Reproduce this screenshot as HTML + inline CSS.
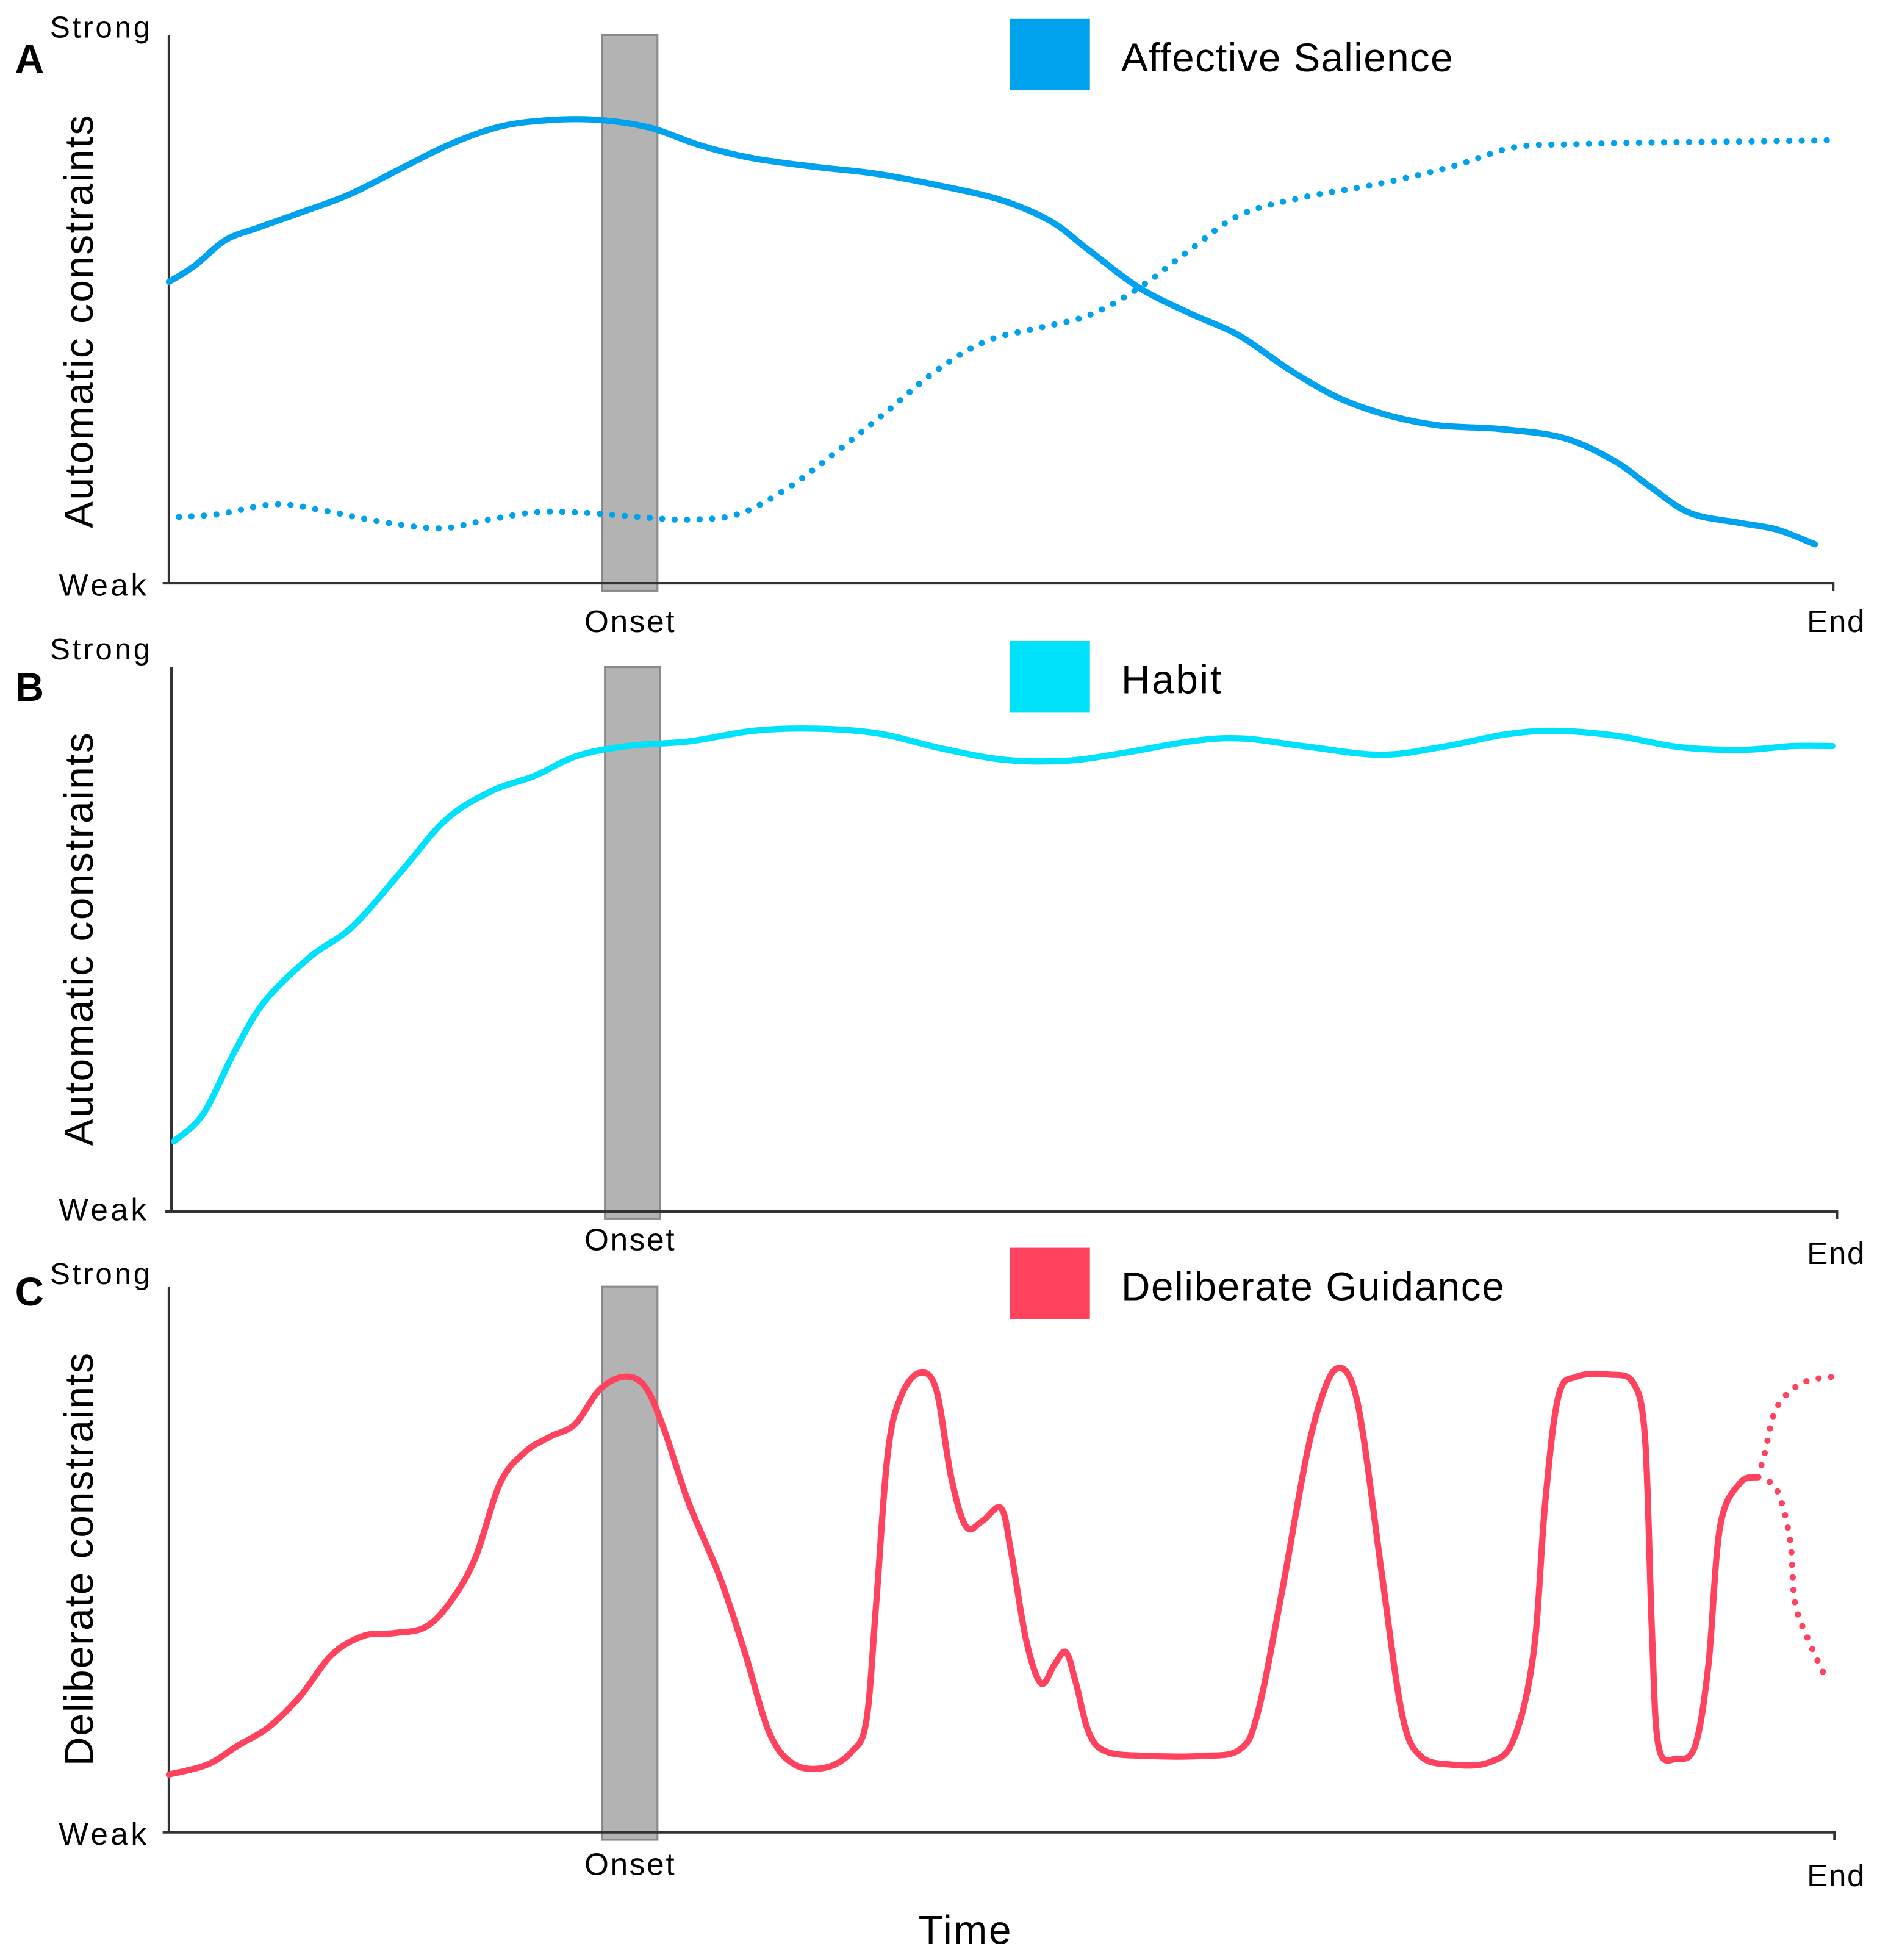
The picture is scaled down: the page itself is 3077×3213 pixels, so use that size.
<!DOCTYPE html>
<html><head><meta charset="utf-8"><style>
html,body{margin:0;padding:0;background:#fff;}
svg{display:block;}
text{font-family:"Liberation Sans",sans-serif;fill:#000;}
</style></head><body>
<svg id="chart" width="3077" height="3213" viewBox="0 0 1500 1566" preserveAspectRatio="none" xmlns="http://www.w3.org/2000/svg">
</svg>
<script>
// Panel A: affective salience (solid) and dotted alternative
const aSolidT=[0,1.5,3.4,5.3,7.9,10.9,13.9,16.9,19.9,22.9,25.9,28.9,31.9,34.96,38.7,42.5,46.2,50.0,53.0,55.3,58.3,61.3,64.3,67.3,70.3,73.3,76.3,80.1,83.8,86.8,89.1,91.4,94.4,96.6,98.9];
const aSolidV=[55.0,57.8,62.6,64.8,67.6,71.0,75.6,80.1,83.3,84.5,84.5,83.1,79.9,77.6,76.0,74.7,72.6,69.9,66.0,60.7,53.9,49.3,45.2,39.0,33.8,30.6,28.8,28.1,26.5,22.4,17.4,12.8,11.0,9.8,7.1];
const aDotT=[0.6,3.0,6.4,9.4,12.4,16.2,19.2,22.2,25.2,28.2,31.2,34.2,37.2,40.2,43.2,46.2,49.2,52.3,55.3,58.3,61.3,64.3,68.0,72.6,77.1,80.8,84.6,89.1,95.1,99.8];
const aDotV=[12.1,12.6,14.4,13.2,11.4,10.0,11.6,13.0,12.8,12.1,11.6,12.6,17.4,24.2,31.5,39.0,44.3,46.6,48.9,53.9,60.7,67.1,70.3,72.8,76.0,79.5,80.1,80.4,80.6,80.8];
// Panel B: habit
const bT=[0.15,1.9,3.8,5.6,8.3,10.9,13.9,16.5,19.2,21.8,24.4,27.4,31.2,34.96,38.7,42.5,46.2,50.0,53.8,57.5,61.3,64.3,68.0,72.6,76.3,80.1,83.1,86.8,90.6,94.4,97.4,99.8];
const bV=[12.9,17.9,29.4,38.6,46.7,52.4,62.8,72.0,77.2,80.0,83.7,85.5,86.4,88.3,88.7,87.8,85.1,83.0,82.8,84.4,86.4,86.9,85.5,83.9,85.3,87.6,88.3,87.4,85.3,84.8,85.5,85.5];
// Panel C: deliberate guidance
const cT=[0,2.3,4.1,6.0,7.9,9.8,11.7,13.5,15.4,16.9,18.4,19.9,21.4,22.9,24.4,25.9,27.4,28.6,29.7,31.2,33.1,34.6,36.1,37.6,39.5,41.0,41.9,42.5,43.2,44.0,45.1,46.1,47.0,47.9,48.9,50.0,50.6,51.5,52.4,53.2,53.9,54.5,55.3,56.4,59.0,62.0,64.3,65.4,66.9,68.4,69.5,70.3,71.1,71.8,72.9,74.1,75.2,77.1,79.3,80.8,82.0,82.7,83.5,84.6,86.5,88.0,88.7,89.1,89.5,90.6,91.7,92.5,93.2,94.4,95.5];
const cV=[10.6,12.4,15.8,19.3,25.0,32.6,36.0,36.5,37.6,42.2,50.2,64.0,69.7,72.5,74.8,81.2,83.5,81.7,74.3,60.6,46.8,33.0,18.1,12.4,11.9,14.7,20.4,42.2,69.7,80.0,84.2,81.2,65.1,56.0,57.1,59.4,51.4,35.3,27.3,30.7,33.0,27.3,18.1,14.7,14.0,14.0,15.1,21.6,44.5,69.7,81.7,85.1,82.3,72.0,46.8,21.6,14.0,12.4,12.8,17.0,33.0,60.6,80.0,83.5,83.9,82.3,72.0,37.6,15.8,13.5,15.8,30.7,56.0,64.0,65.1];
const cUpT=[95.5,95.9,96.6,98.1,100];
const cUpV=[65.1,69.7,77.8,82.3,83.5];
const cDownT=[95.5,96.6,97.4,97.7,98.5,99.6];
const cDownV=[65.1,62.8,53.7,42.2,35.3,28.0];
const tickLabels=["Onset","End"];
const onsetT=[27.7,27.7,27.7];

const NS="http://www.w3.org/2000/svg";
const svg=document.getElementById('chart');
function el(tag,attrs,parent){const e=document.createElementNS(NS,tag);for(const k in attrs)e.setAttribute(k,attrs[k]);(parent||svg).appendChild(e);return e;}
function txt(s,attrs){const e=el('text',attrs);e.textContent=s;return e;}

const panels=[
 {x0:135,x1:1465,top:28,bot:466,letter:"A",letterY:58,title:"Automatic constraints",strongY:30,weakY:476,onsetY:505,endY:505,legY:15,legColor:"#00a2ee",legText:"Affective Salience",legTL:265},
 {x0:137,x1:1468,top:533,bot:968,letter:"B",letterY:560,title:"Automatic constraints",strongY:527,weakY:975,onsetY:999,endY:1010,legY:512,legColor:"#00e1fb",legText:"Habit",legTL:80},
 {x0:135,x1:1466,top:1028,bot:1464,letter:"C",letterY:1043,title:"Deliberate constraints",strongY:1026,weakY:1474,onsetY:1498,endY:1507,legY:997,legColor:"#ff435f",legText:"Deliberate Guidance",legTL:306}
];
function sx(p,t){return p.x0+t/100*(1465-135);}
function sy(p,v){return p.bot-v/100*(p.bot-p.top);}
function pathD(p,T,V){
 const pts=T.map((t,i)=>[sx(p,t),sy(p,V[i])]);
 let d="M"+pts[0][0].toFixed(1)+","+pts[0][1].toFixed(1);
 for(let i=0;i<pts.length-1;i++){
  const p0=pts[i-1]||pts[i],p1=pts[i],p2=pts[i+1],p3=pts[i+2]||p2;
  const c1=[p1[0]+(p2[0]-p0[0])/6,p1[1]+(p2[1]-p0[1])/6];
  const c2=[p2[0]-(p3[0]-p1[0])/6,p2[1]-(p3[1]-p1[1])/6];
  d+=" C"+c1[0].toFixed(1)+","+c1[1].toFixed(1)+" "+c2[0].toFixed(1)+","+c2[1].toFixed(1)+" "+p2[0].toFixed(1)+","+p2[1].toFixed(1);
 }
 return d;
}

panels.forEach((p,i)=>{
 const g=el('g',{});
 
 
 const bx=sx(p,onsetT[i])-22;
 const bar=el('rect',{x:bx,y:p.top,width:44,height:p.bot-p.top+6,fill:"#b3b3b3",stroke:"#8a8a8a","stroke-width":1.5},g);
 
 
 const ya=el('line',{x1:p.x0,y1:p.top,x2:p.x0,y2:p.bot,stroke:"#333","stroke-width":2},g);
 
 
 const xa=el('polyline',{points:(p.x0-5)+","+p.bot+" "+p.x1+","+p.bot+" "+p.x1+","+(p.bot+6),fill:"none",stroke:"#333","stroke-width":2},g);
 
 
 let t=txt(p.letter,{x:12,y:p.letterY,"font-size":32,"font-weight":"bold"});
 
 
 t=txt("Strong",{x:40,y:p.strongY,"font-size":24,textLength:80});
 
 
 t=txt("Weak",{x:47,y:p.weakY,"font-size":25,textLength:70});
 
 
 const cy=(p.top+p.bot)/2+(i==0?10:0);
 t=txt(p.title,{x:0,y:0,"font-size":32,"text-anchor":"middle",transform:"translate(74,"+cy+") rotate(-90)",textLength:330});
 
 
 t=txt(tickLabels[0],{x:503,y:p.onsetY,"font-size":25,"text-anchor":"middle",textLength:72});
 
 
 t=txt(tickLabels[1],{x:1490,y:p.endY,"font-size":25,"text-anchor":"end",textLength:46});
 
 
 const lr=el('rect',{x:807,y:p.legY,width:64,height:57,fill:p.legColor},g);
 
 
 t=txt(p.legText,{x:896,y:p.legY+42,"font-size":32,textLength:p.legTL});
 
 
});

const pA=panels[0],pB=panels[1],pC=panels[2];
function line(p,T,V,color,dotted,name){
 const a={d:pathD(p,T,V),fill:"none",stroke:color,"stroke-width":5,"stroke-linecap":"round","stroke-linejoin":"round"};
 if(dotted){a["stroke-dasharray"]="0 10";a["stroke-width"]=5;}
 const e=el('path',a);
 
 
}
line(pA,aSolidT,aSolidV,"#00a2ee",false,"affective-salience-line");
line(pA,aDotT,aDotV,"#00a2ee",true,"affective-salience-dotted-line");
line(pB,bT,bV,"#00e1fb",false,"habit-line");
line(pC,cT,cV,"#ff435f",false,"deliberate-guidance-line");
line(pC,cUpT,cUpV,"#ff435f",true,"deliberate-guidance-up-branch");
line(pC,cDownT,cDownV,"#ff435f",true,"deliberate-guidance-down-branch");

const tt=txt("Time",{x:771,y:1553,"font-size":32,"text-anchor":"middle",textLength:74});


</script>
</body></html>
